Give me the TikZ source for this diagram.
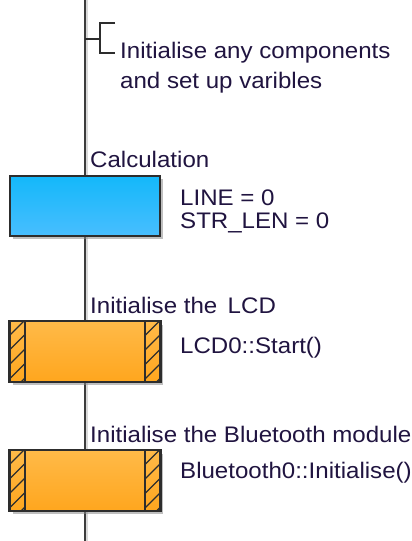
\documentclass[tikz,border=0pt]{standalone}
\usepackage{fontspec}
\setmainfont{Liberation Sans}[FakeStretch=1.07]
\usetikzlibrary{calc}
\definecolor{txtc}{RGB}{32,20,64}
\definecolor{linec}{RGB}{60,60,60}
\definecolor{blueT}{RGB}{20,184,250}
\definecolor{blueB}{RGB}{72,190,255}
\definecolor{orT}{RGB}{255,186,72}
\definecolor{orB}{RGB}{255,166,30}
\definecolor{edgec}{RGB}{45,45,45}
\begin{document}
\begin{tikzpicture}[x=1pt,y=-1pt,
  txt/.style={font=\fontsize{22.5}{26}\selectfont, text=txtc, inner sep=0pt, anchor=base west},
  flow/.style={draw=linec, line width=2pt,
    preaction={draw=black!15, line width=2pt, transform canvas={xshift=2pt}}},
  iconbox/.style={minimum width=150pt, minimum height=60pt, inner sep=0pt, draw=edgec, line width=1.6pt},
  calcbox/.style={iconbox, top color=blueT, bottom color=blueB},
  macrobox/.style={iconbox, top color=orT, bottom color=orB},
  shadowc/.style={fill=black!45, opacity=0.55},
  bracket/.style={draw=edgec, line width=1.6pt}]
\useasboundingbox (0,0) rectangle (412,541);
\fill[white] (0,0) rectangle (412,541);

\coordinate (top) at (85,0);
\coordinate (bottom) at (85,541);
\coordinate (cmtjoin) at (85,39);

% node placeholders (for positions)
\path (85,206) coordinate (calcpos) (85,351.5) coordinate (lcdpos) (85,480.5) coordinate (btpos);

% main flow line (drawn under boxes)
\draw[flow] (top) -- (bottom);

% shadows
\foreach \p in {calcpos,lcdpos,btpos}
  \fill[shadowc] ($(\p)+(-72,-27)$) rectangle ($(\p)+(78,33)$);

\node[calcbox] (calc) at (calcpos) {};
\node[macrobox] (lcd) at (lcdpos) {};
\node[macrobox] (bt) at (btpos) {};

% hatched strips
\foreach \b in {lcd,bt}{
  \begin{scope}
    \clip ($(\b.north west)$) rectangle ($(\b.south west)+(16,0)$);
    \foreach \k in {0,...,5}
      \draw[edgec, line width=1.2pt] ($(\b.north west)+(0,15+14.5*\k)$) -- ++(16,-16);
  \end{scope}
  \begin{scope}
    \clip ($(\b.north east)+(-16,0)$) rectangle ($(\b.south east)$);
    \foreach \k in {0,...,5}
      \draw[edgec, line width=1.2pt] ($(\b.north east)+(-16,15+14.5*\k)$) -- ++(16,-16);
  \end{scope}
  \draw[edgec, line width=1.6pt] ($(\b.north west)+(16,0)$) -- ($(\b.south west)+(16,0)$);
  \draw[edgec, line width=1.6pt] ($(\b.north east)+(-16,0)$) -- ($(\b.south east)+(-16,0)$);
  \draw[edgec, line width=1.6pt] (\b.north west) rectangle (\b.south east);
}

% comment bracket
\coordinate (brk) at (100,39);
\coordinate (brktop) at (100,23);
\coordinate (brkbot) at (100,53);
\draw[bracket] (cmtjoin) -- (brk);
\draw[bracket] ($(brktop)+(15,0)$) -- (brktop) -- (brkbot) -- ($(brkbot)+(15,0)$);

% texts
\node[txt] (c1) at (120,58) {Initialise any components};
\node[txt] (c2) at (120,88) {and set up varibles};

\node[txt] (calcname) at (90,167) {Calculation};
\node[txt] (calc1) at (180,205) {LINE = 0};
\node[txt] (calc2) at (180,228) {STR\_LEN = 0};

\node[txt] (lcdname) at (90,313) {Initialise the\, LCD};
\node[txt] (lcd1) at (180,353) {LCD0::Start()};

\node[txt] (btname) at (90,442) {Initialise the Bluetooth module};
\node[txt] (bt1) at (180,478) {Bluetooth0::Initialise()};
\end{tikzpicture}
\end{document}
